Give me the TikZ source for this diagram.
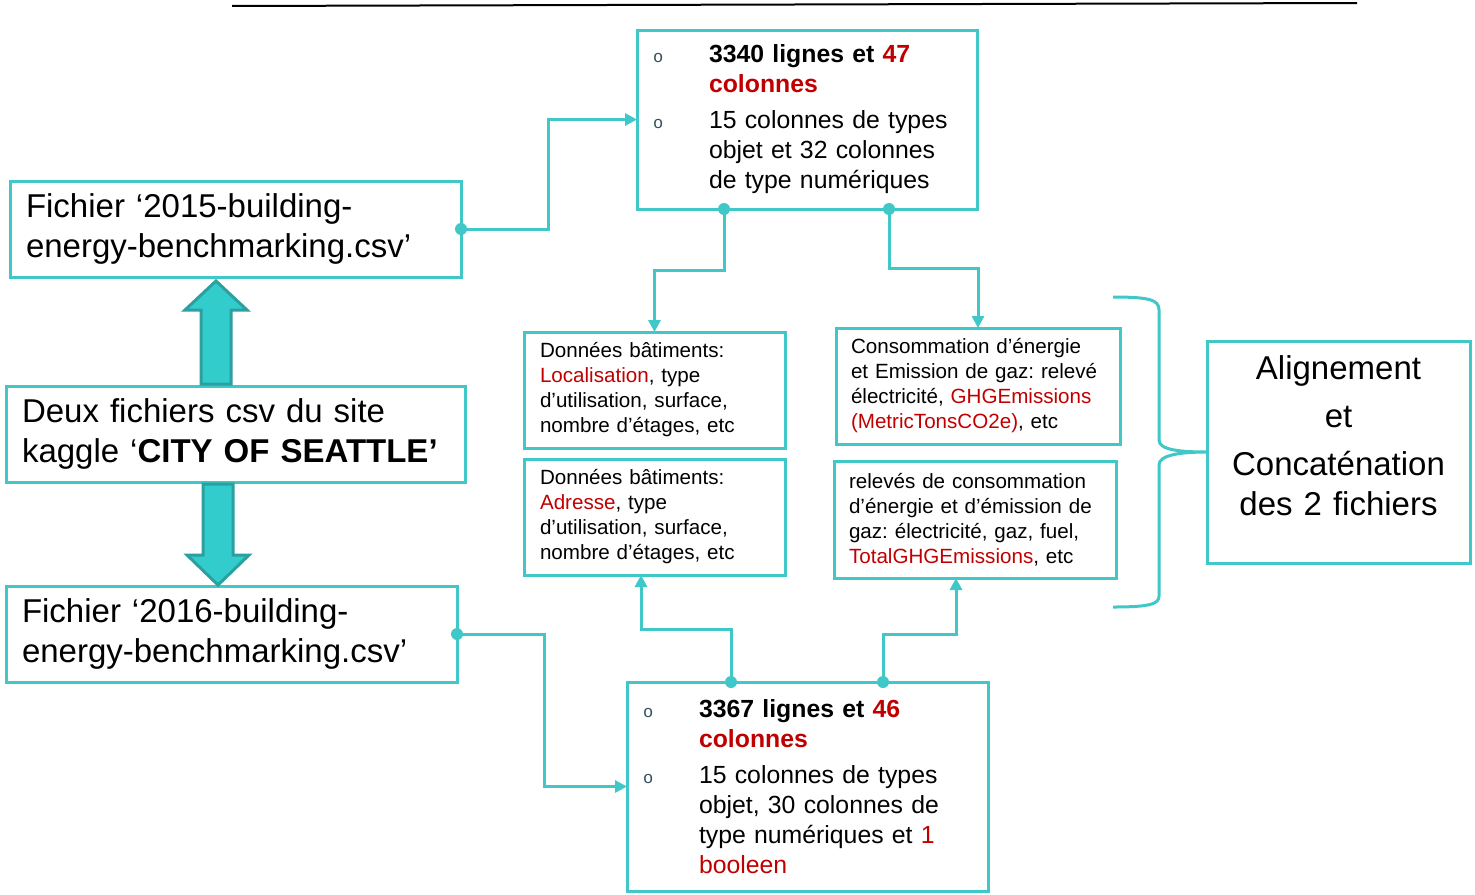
\documentclass[tikz,border=0pt]{standalone}
\usepackage{fontspec}
\setmainfont{Liberation Sans}
\newfontfamily\bulletfont{Liberation Mono}
\usepackage{tikz}
\usetikzlibrary{arrows.meta,positioning,calc}
\usepackage{xcolor}
\definecolor{seablue}{RGB}{64,200,200}
\definecolor{seadark}{RGB}{44,160,160}
\definecolor{seafill}{RGB}{51,204,204}
\definecolor{kagred}{RGB}{192,0,0}
\definecolor{bulgray}{RGB}{50,80,90}
\newcommand{\rd}[1]{\textcolor{kagred}{#1}}
\newcommand{\bul}{\makebox[28pt][l]{\hspace{0pt}{\bulletfont\fontsize{8.5}{8.5}\selectfont\color{bulgray}o}}}
\newcommand{\ind}{\hspace*{28pt}}
\frenchspacing

\begin{document}
\begin{tikzpicture}[x=0.5pt, y=-0.5pt,
    databox/.style={rectangle, draw=seablue, line width=1.5pt, outer sep=0pt,
                    inner xsep=8pt, inner ysep=0pt, anchor=north west, align=left},
    bigtxt/.style={font=\fontsize{16.5}{20}\selectfont},
    midtxt/.style={font=\fontsize{12.4}{15}\selectfont},
    smalltxt/.style={font=\fontsize{10.3}{12.5}\selectfont},
    conn/.style={draw=seablue, line width=1.5pt, -{Triangle[width=6pt,length=6pt]}},
    bigarrow/.style={fill=seafill, draw=seadark, line width=1.5pt, line join=miter}
]
    \fill[white] (0,0) rectangle (1475,894);
    \useasboundingbox (0,0) rectangle (1475,894);

    % top rule
    \coordinate (rl) at (232,6);
    \coordinate (rr) at (1357,3);
    \draw[line width=1pt] (rl) -- (rr);

    % left column
    \node[databox, bigtxt, minimum width=225.5pt, minimum height=48pt, text width=209.5pt] (f15) at (10,181)
        {Fichier ‘2015-building-\\energy-benchmarking.csv’};
    \node[databox, bigtxt, minimum width=229.5pt, minimum height=48pt, text width=213.5pt] (src) at (6,386)
        {Deux fichiers csv du site\\kaggle ‘\textbf{CITY OF SEATTLE’}};
    \node[databox, bigtxt, minimum width=225.5pt, minimum height=48pt, text width=209.5pt] (f16) at (6,586)
        {Fichier ‘2016-building-\\energy-benchmarking.csv’};

    % summary boxes
    \node[databox, midtxt, minimum width=170pt, minimum height=89.5pt, text width=154pt] (s15) at (637,30)
        {\bul\textbf{3340 lignes et \rd{47}}\\
         \ind\textbf{\rd{colonnes}}\\[3pt]
         \bul 15 colonnes de types\\
         \ind objet et 32 colonnes\\
         \ind de type numériques};
    \node[databox, midtxt, minimum width=180.5pt, minimum height=104.5pt, text width=164.5pt] (s16) at (627,682)
        {\bul\textbf{3367 lignes et \rd{46}}\\
         \ind\textbf{\rd{colonnes}}\\[3pt]
         \bul 15 colonnes de types\\
         \ind objet, 30 colonnes de\\
         \ind type numériques et \rd{1}\\
         \ind\rd{booleen}};

    % detail boxes
    \node[databox, smalltxt, minimum width=130.5pt, minimum height=58pt, text width=114.5pt] (loc) at (524,332)
        {Données bâtiments:\\\rd{Localisation}, type\\d’utilisation, surface,\\nombre d’étages, etc};
    \node[databox, smalltxt, minimum width=142pt, minimum height=58pt, text width=127pt, inner xsep=7.5pt] (ghg) at (836,328)
        {Consommation d’énergie\\et Emission de gaz: relevé\\électricité, \rd{GHGEmissions}\\\rd{(MetricTonsCO2e)}, etc};
    \node[databox, smalltxt, minimum width=130.5pt, minimum height=58pt, text width=114.5pt] (adr) at (524,459)
        {Données bâtiments:\\\rd{Adresse}, type\\d’utilisation, surface,\\nombre d’étages, etc};
    \node[databox, smalltxt, minimum width=141pt, minimum height=58.5pt, text width=126pt, inner xsep=7.5pt] (tot) at (834,461)
        {relevés de consommation\\d’énergie et d’émission de\\gaz: électricité, gaz, fuel,\\\rd{TotalGHGEmissions}, etc};

    % result box
    \node[databox, bigtxt, align=center, minimum width=131.5pt, minimum height=111pt, text width=115.5pt, text depth=84pt] (res) at (1207,341)
        {Alignement\\[4pt]et\\[4pt]Concaténation\\des 2 fichiers};

    % block arrows
    \draw[bigarrow] ($(src.north west)+(210,-2)$) ++(-15,0) -- ++(0,-74) -- ++(-16,0) -- ++(31,-29)
        -- ++(31,29) -- ++(-16,0) -- ++(0,74) -- cycle;
    \draw[bigarrow] ($(src.south west)+(212,2)$) ++(-15,0) -- ++(0,71) -- ++(-16,0) -- ++(31,30)
        -- ++(31,-30) -- ++(-16,0) -- ++(0,-71) -- cycle;

    % connectors
    \coordinate (t1) at ($(s15.south west)+(87,0)$);
    \coordinate (t2) at ($(s15.south west)+(252,0)$);
    \coordinate (u1) at ($(s16.north west)+(104,0)$);
    \coordinate (u2) at ($(s16.north west)+(256,0)$);
    \draw[conn] (f15.east) -- ++(87,0) |- (s15.west);
    \draw[conn] (f16.east) -- ++(87,0) |- (s16.west);
    \draw[conn] (t1) -- ++(0,61) -| (loc.north);
    \draw[conn] (t2) -- ++(0,59) -| (ghg.north);
    \draw[conn] (u1) -- ++(0,-53) -| ($(adr.south west)+(117,0)$);
    \draw[conn] (u2) -- ++(0,-48) -| ($(tot.south west)+(122,0)$);
    \foreach \p in {f15.east, f16.east, t1, t2, u1, u2}
        \fill[seablue] (\p) circle (3pt);

    % brace
    \draw[seablue, line width=1.5pt] (1113,297) .. controls (1150,297) and (1159,300) .. (1159,310)
        -- (1159,440) .. controls (1159,450) and (1180,452) .. (res.west)
        .. controls (1180,452) and (1159,455) .. (1159,465)
        -- (1159,596) .. controls (1159,604) and (1150,607) .. (1113,607);
\end{tikzpicture}
\end{document}
